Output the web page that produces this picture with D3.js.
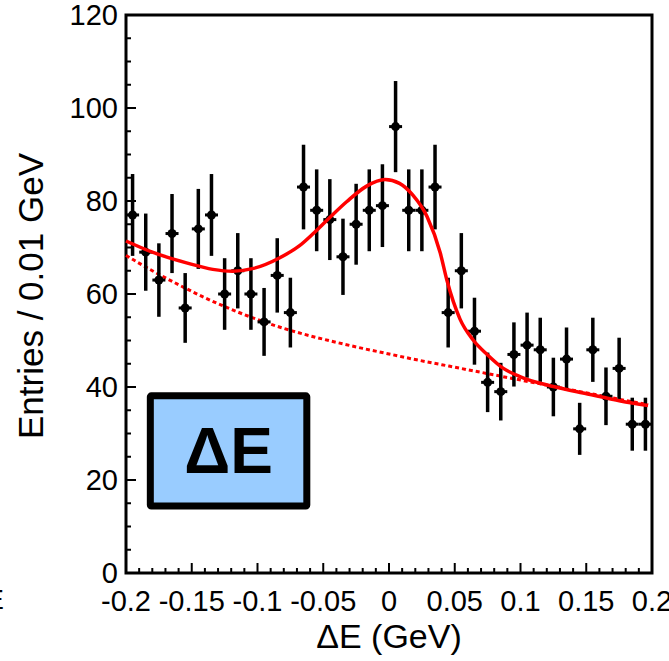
<!DOCTYPE html>
<html>
<head>
<meta charset="utf-8">
<script src="https://cdn.jsdelivr.net/npm/d3@7"></script>
<style>
  body { margin: 0; background: #fff; }
  text { font-family: "Liberation Sans", Arial, Helvetica, sans-serif; fill: #000; }
</style>
</head>
<body>
<div id="chart"></div>
<script>
// entries per 0.01 GeV bin, bins from -0.2 to 0.2
const counts = [77, 69, 63, 73, 57, 74, 77, 60, 65, 60, 54, 64, 56,
  83, 78, 76, 68, 75, 78, 79, 96, 78, 78, 83,
  56, 65, 52, 41, 39, 47, 49, 48, 40, 46, 31, 48, 38, 44, 32, 32];
const errors = [8.8, 8.3, 7.9, 8.5, 7.5, 8.6, 8.8, 7.7, 8.1, 7.7, 7.3, 8.0, 7.5,
  9.1, 8.8, 8.7, 8.2, 8.7, 8.8, 8.9, 9.8, 8.8, 8.8, 9.1,
  7.5, 8.1, 7.2, 6.4, 6.2, 6.9, 7.0, 6.9, 6.3, 6.8, 5.6, 6.9, 6.2, 6.6, 5.7, 5.7];

// total fit (solid)
const fitX = [-0.2, -0.18, -0.154, -0.134, -0.119, -0.103, -0.083, -0.068, -0.058, -0.046,
  -0.032, -0.017, -0.003, 0.008, 0.018, 0.029, 0.039, 0.044, 0.054, 0.064, 0.075,
  0.087, 0.1, 0.125, 0.151, 0.176, 0.197];
const fitY = [71.4, 69, 66.7, 65.3, 64.9, 65.5, 67.8, 70.4, 72.9, 76.2,
  79.9, 83.2, 84.6, 83.8, 81.3, 76.6, 68.8, 63, 54.6, 50.1, 46.9,
  44, 42.2, 40.1, 38.5, 37, 36];

// background component (dotted)
const bkgX = [-0.2, -0.18, -0.16, -0.14, -0.12, -0.1, -0.08, -0.06, -0.04, -0.02,
  0, 0.02, 0.04, 0.06, 0.08, 0.1, 0.12, 0.14, 0.16, 0.18, 0.197];
const bkgY = [68.3, 65.0, 62.0, 59.2, 56.7, 54.5, 52.6, 51.0, 49.6, 48.3,
  47.1, 45.9, 44.8, 43.7, 42.6, 41.5, 40.4, 39.3, 38.2, 37.1, 36.2];

const yTicks = [0, 20, 40, 60, 80, 100, 120];
const xTicks = [-0.2, -0.15, -0.1, -0.05, 0, 0.05, 0.1, 0.15, 0.2];

const W = 669, H = 661;
const m = { left: 126, right: 17, top: 15, bottom: 88 };

const svg = d3.select('#chart').append('svg')
  .attr('width', W)
  .attr('height', H);

const x = d3.scaleLinear().domain([-0.2, 0.2]).range([m.left, W - m.right]);
const y = d3.scaleLinear().domain([0, 120]).range([H - m.bottom, m.top]);

const bins = d3.range(counts.length).map(i => -0.195 + i * 0.01);

// ticks
const gT = svg.append('g').attr('stroke', '#000').attr('stroke-width', 2);
d3.range(0, 121, 5).forEach(v => {
  const major = v % 20 === 0;
  gT.append('line')
    .attr('x1', m.left).attr('x2', m.left + (major ? 10 : 5))
    .attr('y1', y(v)).attr('y2', y(v));
});
d3.range(41).forEach(i => {
  const v = -0.2 + i * 0.01;
  const major = i % 5 === 0;
  gT.append('line')
    .attr('x1', x(v)).attr('x2', x(v))
    .attr('y1', y(0)).attr('y2', y(0) - (major ? 10 : 5));
});

// frame
svg.append('rect')
  .attr('x', m.left).attr('y', m.top)
  .attr('width', W - m.right - m.left).attr('height', y(0) - m.top)
  .attr('fill', 'none').attr('stroke', '#000').attr('stroke-width', 3);

// tick labels
svg.append('g').selectAll('text').data(yTicks).join('text')
  .attr('x', m.left - 8)
  .attr('y', d => y(d))
  .attr('dy', '0.36em')
  .attr('text-anchor', 'end')
  .attr('font-size', 29)
  .text(d => d);

svg.append('g').selectAll('text').data(xTicks).join('text')
  .attr('x', d => x(d))
  .attr('y', y(0) + 38)
  .attr('text-anchor', 'middle')
  .attr('font-size', 29)
  .text(d => String(d));

// axis titles
svg.append('text')
  .attr('transform', `translate(43,296) rotate(-90)`)
  .attr('text-anchor', 'middle')
  .attr('font-size', 35)
  .text('Entries / 0.01 GeV');

svg.append('text')
  .attr('x', x(0))
  .attr('y', 648)
  .attr('text-anchor', 'middle')
  .attr('font-size', 34)
  .text('ΔE (GeV)');

// stray clipped label at left edge
svg.append('text')
  .attr('x', 4).attr('y', 609)
  .attr('text-anchor', 'end')
  .attr('font-size', 28)
  .text('E');

const line = d3.line().curve(d3.curveMonotoneX).x(d => x(d[0])).y(d => y(d[1]));

// background component
svg.append('path')
  .attr('d', line(bkgX.map((v, i) => [v, bkgY[i]])))
  .attr('fill', 'none').attr('stroke', '#ff0000')
  .attr('stroke-width', 3).attr('stroke-dasharray', '4,3');

// data points with errors
const gD = svg.append('g');
bins.forEach((b, i) => {
  gD.append('line')
    .attr('x1', x(b)).attr('x2', x(b))
    .attr('y1', y(counts[i] + errors[i])).attr('y2', y(counts[i] - errors[i]))
    .attr('stroke', '#000').attr('stroke-width', 3.5);
  gD.append('line')
    .attr('x1', x(b) - 6.5).attr('x2', x(b) + 6.5)
    .attr('y1', y(counts[i])).attr('y2', y(counts[i]))
    .attr('stroke', '#000').attr('stroke-width', 3);
  gD.append('circle')
    .attr('cx', x(b)).attr('cy', y(counts[i]))
    .attr('r', 4.5).attr('fill', '#000');
});

// total fit
svg.append('path')
  .attr('d', line(fitX.map((v, i) => [v, fitY[i]])))
  .attr('fill', 'none').attr('stroke', '#ff0000')
  .attr('stroke-width', 3.5);

// label box
const bx = x(-0.1815), bx2 = x(-0.0625), by = y(38.1), by2 = y(14.4);
svg.append('rect')
  .attr('x', bx).attr('y', by)
  .attr('width', bx2 - bx).attr('height', by2 - by)
  .attr('rx', 1)
  .attr('fill', '#99ccff').attr('stroke', '#000').attr('stroke-width', 7);
svg.append('text')
  .attr('x', (bx + bx2) / 2)
  .attr('y', 473)
  .attr('text-anchor', 'middle')
  .attr('font-size', 64)
  .attr('font-weight', 'bold')
  .text('ΔE');
</script>
</body>
</html>
